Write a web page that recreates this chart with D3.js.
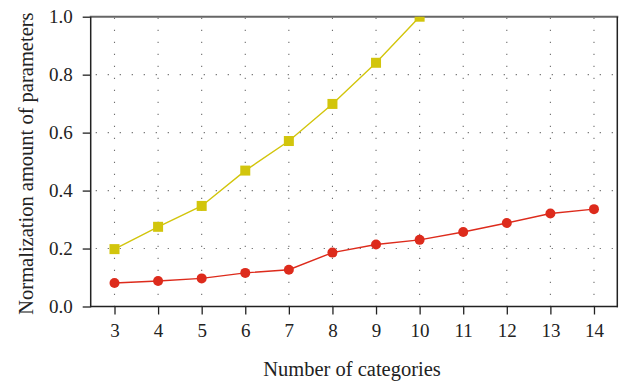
<!DOCTYPE html>
<html>
<head>
<meta charset="utf-8">
<script src="https://cdn.jsdelivr.net/npm/d3@7"></script>
<style>
  html, body { margin: 0; padding: 0; background: #fff; }
  svg { display: block; }
  .tick text { font-family: "Liberation Serif", "DejaVu Serif", serif; font-size: 19px; fill: #222; }
</style>
</head>
<body>
<svg id="chart" width="627" height="383"></svg>
<script>
// Number of categories on the x axis
const categories = [3, 4, 5, 6, 7, 8, 9, 10, 11, 12, 13, 14];
// Normalized parameter amount, yellow series (squares)
const squareSeries = [0.198, 0.275, 0.347, 0.469, 0.571, 0.699, 0.841, 1.0];
// Normalized parameter amount, red series (circles)
const circleSeries = [0.081, 0.088, 0.097, 0.116, 0.127, 0.186, 0.214, 0.230, 0.257, 0.288, 0.321, 0.336];
const yTicks = [0.0, 0.2, 0.4, 0.6, 0.8, 1.0];
const yGrid = [0.2, 0.4, 0.6, 0.8];

const svg = d3.select("#chart");
const plot = { left: 90.7, right: 617.3, top: 16.7, bottom: 306.5 };

const x = d3.scaleLinear().domain([2.454, 14.535]).range([plot.left, plot.right]);
const y = d3.scaleLinear().domain([0, 1]).range([plot.bottom, plot.top]);

svg.append("defs").append("clipPath").attr("id", "plotClip")
  .append("rect")
  .attr("x", plot.left).attr("y", plot.top)
  .attr("width", plot.right - plot.left).attr("height", plot.bottom - plot.top);

// dotted grid
const grid = svg.append("g").attr("stroke", "#6f6f6f").attr("stroke-width", 1.1)
  .attr("stroke-dasharray", "1.2,10.8");
grid.selectAll("line.v").data(categories).join("line").attr("class", "v")
  .attr("x1", d => x(d)).attr("x2", d => x(d))
  .attr("y1", plot.top + 1).attr("y2", plot.bottom);
grid.selectAll("line.h").data(yGrid).join("line").attr("class", "h")
  .attr("x1", plot.left + 5).attr("x2", plot.right)
  .attr("y1", d => y(d)).attr("y2", d => y(d));

// axes
const xAxis = svg.append("g").attr("transform", `translate(0,${plot.bottom})`)
  .call(d3.axisBottom(x).tickValues(categories).tickFormat(d3.format("d"))
    .tickSize(8).tickPadding(9).tickSizeOuter(0));
const yAxis = svg.append("g").attr("transform", `translate(${plot.left},0)`)
  .call(d3.axisLeft(y).tickValues(yTicks).tickFormat(d3.format(".1f"))
    .tickSize(8).tickPadding(10).tickSizeOuter(0));
[xAxis, yAxis].forEach(a => {
  a.select(".domain").remove();
  a.selectAll(".tick line").attr("stroke", "#222").attr("stroke-width", 1.3);
});

// frame
svg.append("line").attr("x1", plot.left - 1).attr("x2", plot.right + 1)
  .attr("y1", plot.top).attr("y2", plot.top)
  .attr("stroke", "#666").attr("stroke-width", 2);
svg.append("line").attr("x1", plot.left).attr("x2", plot.left)
  .attr("y1", plot.top).attr("y2", plot.bottom + 0.7)
  .attr("stroke", "#222").attr("stroke-width", 1.5);
svg.append("line").attr("x1", plot.right).attr("x2", plot.right)
  .attr("y1", plot.top).attr("y2", plot.bottom + 0.7)
  .attr("stroke", "#222").attr("stroke-width", 1.5);
svg.append("line").attr("x1", plot.left).attr("x2", plot.right + 0.7)
  .attr("y1", plot.bottom).attr("y2", plot.bottom)
  .attr("stroke", "#222").attr("stroke-width", 1.5);

// series
const marks = svg.append("g").attr("clip-path", "url(#plotClip)");
const sqData = squareSeries.map((v, i) => [categories[i], v]);
const ciData = circleSeries.map((v, i) => [categories[i], v]);
const line = d3.line().x(d => x(d[0])).y(d => y(d[1]));

marks.append("path").datum(sqData).attr("d", line)
  .attr("fill", "none").attr("stroke", "#d2c50c").attr("stroke-width", 1.4);
marks.selectAll("rect.sq").data(sqData).join("rect").attr("class", "sq")
  .attr("x", d => x(d[0]) - 5).attr("y", d => y(d[1]) - 5)
  .attr("width", 10).attr("height", 10).attr("fill", "#d2c50c");

marks.append("path").datum(ciData).attr("d", line)
  .attr("fill", "none").attr("stroke", "#dd2b1c").attr("stroke-width", 1.4);
marks.selectAll("circle.ci").data(ciData).join("circle").attr("class", "ci")
  .attr("cx", d => x(d[0])).attr("cy", d => y(d[1])).attr("r", 5)
  .attr("fill", "#dd2b1c");

// axis titles
svg.append("text").attr("x", (plot.left + plot.right) / 2 - 2).attr("y", 375.5)
  .attr("text-anchor", "middle")
  .style("font-family", '"Liberation Serif", "DejaVu Serif", serif').style("font-size", "20.5px")
  .attr("fill", "#222").text("Number of categories");
svg.append("text").attr("transform", `translate(33,${(plot.top + plot.bottom) / 2 + 2}) rotate(-90)`)
  .attr("text-anchor", "middle")
  .style("font-family", '"Liberation Serif", "DejaVu Serif", serif').style("font-size", "20.5px")
  .attr("fill", "#222").text("Normalization amount of parameters");
</script>
</body>
</html>
